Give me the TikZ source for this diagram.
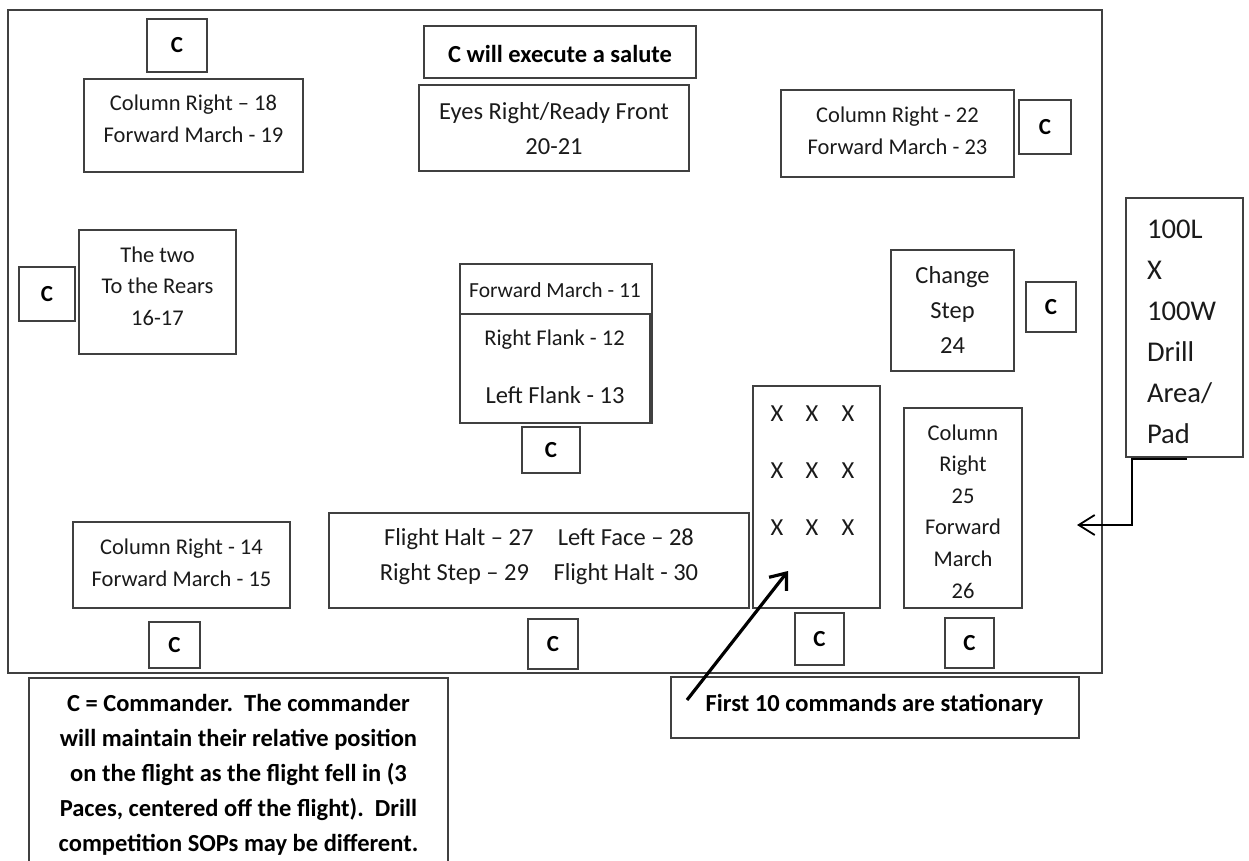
\documentclass[tikz,border=0pt]{standalone}
\usepackage{fontspec}
\setmainfont{Carlito}
\usetikzlibrary{arrows.meta}
\definecolor{edge}{HTML}{404040}
\definecolor{ink}{HTML}{1A1A1A}

\tikzset{
  frame/.style={draw=edge, line width=1.3pt, inner sep=0pt, outer sep=0pt, anchor=north west},
  cbox/.style={frame, font=\fontsize{23}{27}\selectfont\bfseries, text=black},
  txt/.style={align=center, inner sep=0pt, outer sep=0pt, text=ink, yshift=-1.8pt},
  sm/.style={font=\fontsize{22.5}{32}\selectfont},
  md/.style={font=\fontsize{24.5}{35}\selectfont},
  bd/.style={font=\fontsize{24.5}{35}\selectfont\bfseries, text=black},
  pointer/.style={line width=3.2pt, -{Straight Barb[length=14pt,width=22pt,line width=3.2pt]}},
  link/.style={line width=2pt, -{Straight Barb[length=16pt,width=20pt,line width=1.8pt]}},
}

% a drawn panel given by its corners (x1,y1) and (x2,y2)
\newcommand\panel[5]{\node[frame, minimum width={(#4)-(#2)}, minimum height={(#5)-(#3)}] (#1) at (#2,#3) {};}
% a commander marker "C" given by its corners
\newcommand\cmdr[5]{\node[cbox, minimum width={(#4)-(#2)}, minimum height={(#5)-(#3)}] (#1) at (#2,#3) {C};}

\begin{document}
\begin{tikzpicture}[x=1pt, y=-1pt]
\useasboundingbox (0,0) rectangle (1249,861);

% drill field
\panel{field}{8}{10}{1102}{673}

% command panels
\panel{salute}{424}{26}{696}{78}
\node[txt, bd] (salutetxt) at (560,52) {C will execute a salute};

\panel{eyes}{419}{85}{689}{171}
\node[txt, md] (eyestxt) at (554,128) {\strut Eyes Right/Ready Front\\\strut 20-21};

\panel{cr18}{84}{79}{303}{172}
\node[txt, sm] (cr18txt) at (193.5,118) {\strut Column Right – 18\\\strut Forward March - 19};

\panel{cr22}{781}{90}{1014}{177}
\node[txt, sm] (cr22txt) at (897.5,130) {\strut Column Right - 22\\\strut Forward March - 23};

\panel{rears}{79}{230}{236}{354}
\node[txt, font=\fontsize{22.5}{31.5}\selectfont] (rearstxt) at (157.5,285.5) {\strut The two\\\strut To the Rears\\\strut 16-17};

\panel{fm11}{460}{264}{652}{423}
\node[txt, font=\fontsize{21.5}{30}\selectfont] (fm11txt) at (555,288) {Forward March - 11};
\panel{flank}{460}{314}{650}{423}
\node[txt, sm] (rflank) at (554.5,338) {Right Flank - 12};
\node[txt, md] (lflank) at (555,393) {Left Flank - 13};

\panel{change}{891}{250}{1014}{371}
\node[txt, md] (changetxt) at (952.5,310) {\strut Change\\\strut Step\\\strut 24};

\panel{cr14}{73}{522}{290}{608}
\node[txt, sm] (cr14txt) at (181.5,562) {\strut Column Right - 14\\\strut Forward March - 15};

\panel{halt}{329}{513}{749}{608}
\node[txt, md] (halttxt) at (539,554.5) {\strut Flight Halt – 27\quad Left Face – 28\\\strut Right Step – 29\quad Flight Halt - 30};

\panel{flight}{753}{386}{880}{608}
\foreach \c/\x in {1/777, 2/812, 3/848}
  \foreach \r/\y in {1/412, 2/469, 3/526}
    \node[txt, md] (x\r\c) at (\x,\y) {X};

\panel{cr25}{904}{408}{1022}{608}
\node[txt, font=\fontsize{22.5}{31.6}\selectfont] (cr25txt) at (963,511) {\strut Column\\\strut Right\\\strut 25\\\strut Forward\\\strut March\\\strut 26};

% commander positions
\cmdr{c1}{147}{19}{207}{72}
\cmdr{c2}{19}{267}{75}{321}
\cmdr{c3}{1019}{100}{1071}{154}
\cmdr{c4}{1026}{282}{1076}{332}
\cmdr{c5}{522}{427}{580}{473}
\cmdr{c6}{149}{622}{200}{668}
\cmdr{c7}{528}{619}{578}{669}
\cmdr{c8}{795}{613}{844}{665}
\cmdr{c9}{945}{618}{994}{668}

% size of the pad
\panel{pad}{1126}{198}{1243}{457}
\node[txt, align=left, anchor=west, font=\fontsize{28.6}{41}\selectfont] (padtxt) at (1147,330.5)
  {\strut 100L\\\strut X\\\strut 100W\\\strut Drill\\\strut Area/\\\strut Pad};
\coordinate (padfoot) at (1187,459);
\coordinate (padtip) at (1077,525);
\draw[link] (padfoot) -- ++(-55,0) |- (padtip);

% notes below the field
\panel{stationary}{671}{677}{1079}{738}
\node[txt, bd] (stattxt) at (874.5,703) {First 10 commands are stationary};
\coordinate (statfoot) at (687,700);
\coordinate (stattip) at (788,571);
\draw[pointer] (statfoot) -- (stattip);

\draw[draw=edge, line width=1.3pt] (29,861) |- (448,678) -- (448,861);
\node[txt, bd] (legend) at (238.5,773)
  {\strut C = Commander.\ \ The commander\\\strut will maintain their relative position\\\strut on the flight as the flight fell in (3\\\strut Paces, centered off the flight).\ \ Drill\\\strut competition SOPs may be different.};
\end{tikzpicture}
\end{document}
